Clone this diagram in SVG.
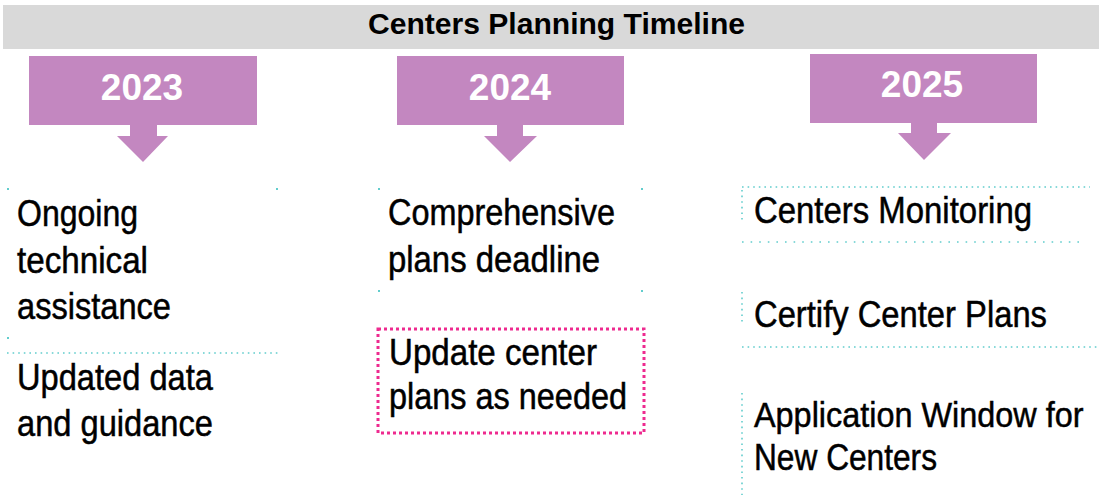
<svg xmlns="http://www.w3.org/2000/svg" width="1099" height="496" viewBox="0 0 1099 496">
<style>
.title{font-family:"Liberation Sans",Arial,sans-serif;font-weight:bold;font-size:29px;fill:#000}
.year{font-family:"Liberation Sans",Arial,sans-serif;font-weight:bold;font-size:37px;fill:#fff;text-anchor:middle}
.body{font-family:"Liberation Sans",Arial,sans-serif;font-size:36px;fill:#000;stroke:#000;stroke-width:0.5}
.band{fill:#c387c0}
.dots{stroke:#62cdcd;stroke-width:1.6;fill:none;stroke-dasharray:1.6 7}
.dotsd{stroke:#62cdcd;stroke-width:1.6;fill:none;stroke-dasharray:1.6 4}
.pink{stroke:#ee2a8f;stroke-width:3;fill:none;stroke-dasharray:3 3}
</style>
<rect x="3" y="5" width="1096" height="44" fill="#d9d9d9"/>
<text class="title" x="368" y="34" textLength="377" lengthAdjust="spacingAndGlyphs">Centers Planning Timeline</text>

<g id="y2023">
<rect class="band" x="29" y="56" width="228" height="69"/>
<path class="band" d="M130,124 H157 V136 H168 L143,162 L117,136 H130 Z"/>
<text class="year" x="142" y="100">2023</text>
</g>
<g id="y2024">
<rect class="band" x="397" y="56" width="227" height="69"/>
<path class="band" d="M497,124 H523 V136 H537 L510,162 L484,136 H497 Z"/>
<text class="year" x="510" y="100">2024</text>
</g>
<g id="y2025">
<rect class="band" x="810" y="54" width="227" height="69"/>
<path class="band" d="M911,122 H937 V133 H951 L924,160 L898,133 H911 Z"/>
<text class="year" x="922" y="97">2025</text>
</g>

<g id="connectors">
<g fill="#62cdcd">
<rect x="7" y="188" width="2" height="2"/><rect x="276" y="188" width="2" height="2"/><rect x="378" y="188" width="2" height="2"/>
<rect x="641" y="188" width="2" height="2"/><rect x="378" y="290" width="2" height="2"/><rect x="641" y="290" width="2" height="2"/>
<rect x="7" y="337" width="2" height="2"/>
</g>
<line class="dotsd" x1="7" y1="353" x2="279" y2="353"/>
<line class="dotsd" x1="742" y1="187" x2="1090" y2="187"/>
<line class="dotsd" x1="742" y1="190" x2="742" y2="222"/>
<line class="dots" x1="742" y1="242" x2="1085" y2="242" stroke-dasharray="1.6 15"/>
<line class="dotsd" x1="742" y1="292" x2="742" y2="325"/>
<line class="dotsd" x1="742" y1="347" x2="1099" y2="347"/>
<line class="dotsd" x1="742" y1="393" x2="742" y2="495"/>
</g>

<g id="n-ongoing">
<text class="body" x="17" y="226" textLength="121" lengthAdjust="spacingAndGlyphs">Ongoing</text>
<text class="body" x="17" y="273" textLength="131" lengthAdjust="spacingAndGlyphs">technical</text>
<text class="body" x="17" y="319" textLength="154" lengthAdjust="spacingAndGlyphs">assistance</text>
</g>
<g id="n-updated">
<text class="body" x="17" y="390" textLength="196" lengthAdjust="spacingAndGlyphs">Updated data</text>
<text class="body" x="17" y="436" textLength="196" lengthAdjust="spacingAndGlyphs">and guidance</text>
</g>
<g id="n-comprehensive">
<text class="body" x="388" y="225" textLength="227" lengthAdjust="spacingAndGlyphs">Comprehensive</text>
<text class="body" x="388" y="272" textLength="212" lengthAdjust="spacingAndGlyphs">plans deadline</text>
</g>
<g id="n-update-center">
<rect class="pink" x="378" y="329" width="266" height="104"/>
<text class="body" x="389" y="365" textLength="208" lengthAdjust="spacingAndGlyphs">Update center</text>
<text class="body" x="389" y="409" textLength="238" lengthAdjust="spacingAndGlyphs">plans as needed</text>
</g>
<g id="n-monitoring">
<text class="body" x="754" y="223" textLength="278" lengthAdjust="spacingAndGlyphs">Centers Monitoring</text>
</g>
<g id="n-certify">
<text class="body" x="754" y="327" textLength="293" lengthAdjust="spacingAndGlyphs">Certify Center Plans</text>
</g>
<g id="n-application">
<text class="body" transform="translate(754,427) scale(0.9,1)" x="0" y="0">Application Window for</text>
<text class="body" x="754" y="470" textLength="183" lengthAdjust="spacingAndGlyphs">New Centers</text>
</g>
</svg>
